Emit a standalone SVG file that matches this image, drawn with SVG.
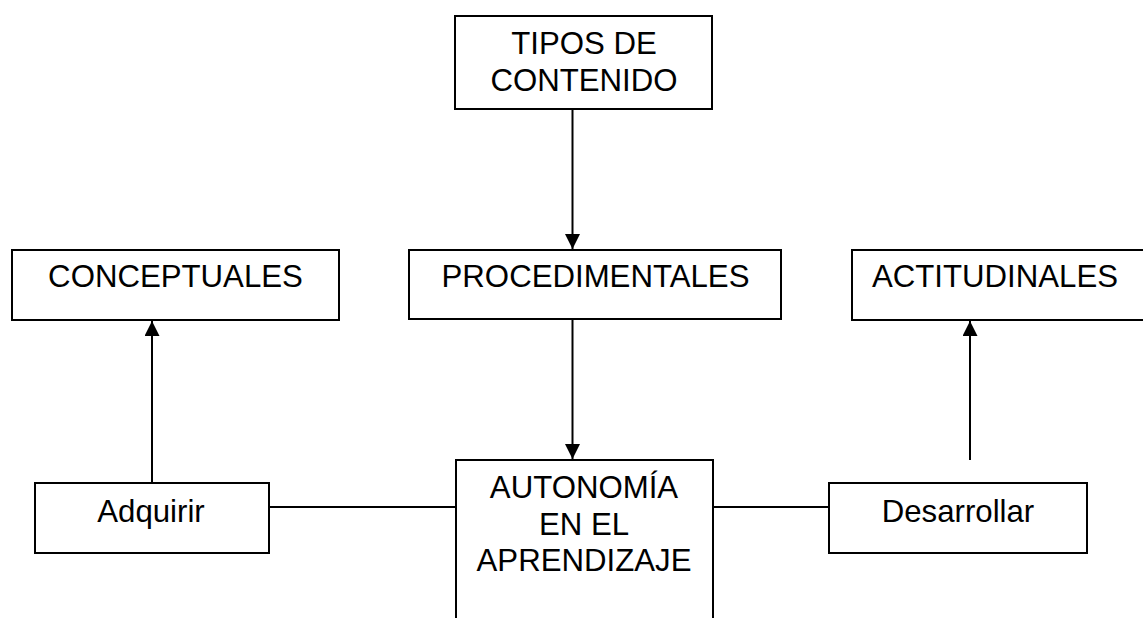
<svg xmlns="http://www.w3.org/2000/svg" width="1143" height="618" viewBox="0 0 1143 618">
<style>
.box{fill:#fff;stroke:#000;stroke-width:2}
.t{font-family:"Liberation Sans",Arial,sans-serif;font-size:31.2px;fill:#000;text-anchor:middle}
.c{stroke:#000;stroke-width:2;fill:none}
</style>
<defs>
<marker id="ah" markerUnits="userSpaceOnUse" markerWidth="16" markerHeight="16" refX="15" refY="7.5" orient="auto">
<path d="M0,0 L15,7.5 L0,15 z" fill="#000"/>
</marker>
</defs>
<rect width="1143" height="618" fill="#fff"/>
<g id="connectors">
<line class="c" x1="572.5" y1="110" x2="572.5" y2="249" marker-end="url(#ah)"/>
<line class="c" x1="572.5" y1="320" x2="572.5" y2="459" marker-end="url(#ah)"/>
<line class="c" x1="152" y1="483" x2="152" y2="321" marker-end="url(#ah)"/>
<line class="c" x1="970" y1="460" x2="970" y2="321" marker-end="url(#ah)"/>
<line class="c" x1="269" y1="507" x2="456" y2="507"/>
<line class="c" x1="713" y1="507" x2="829" y2="507"/>
</g>
<g id="tipos">
<rect class="box" x="455" y="16" width="257" height="93"/>
<text class="t" x="584" y="54">TIPOS DE</text>
<text class="t" x="584" y="91">CONTENIDO</text>
</g>
<g id="conceptuales">
<rect class="box" x="12" y="250" width="327" height="70"/>
<text class="t" x="175.5" y="287">CONCEPTUALES</text>
</g>
<g id="procedimentales">
<rect class="box" x="409" y="250" width="372" height="69"/>
<text class="t" x="595.5" y="287">PROCEDIMENTALES</text>
</g>
<g id="actitudinales">
<rect class="box" x="852" y="250" width="300" height="70"/>
<text class="t" x="995" y="287">ACTITUDINALES</text>
</g>
<g id="adquirir">
<rect class="box" x="35" y="483" width="234" height="70"/>
<text class="t" x="151" y="522">Adquirir</text>
</g>
<g id="autonomia">
<rect class="box" x="456" y="460" width="257" height="180"/>
<text class="t" x="584" y="498">AUTONOMÍA</text>
<text class="t" x="584" y="535">EN EL</text>
<text class="t" x="584" y="571">APRENDIZAJE</text>
</g>
<g id="desarrollar">
<rect class="box" x="829" y="483" width="258" height="70"/>
<text class="t" x="958" y="522">Desarrollar</text>
</g>
</svg>
